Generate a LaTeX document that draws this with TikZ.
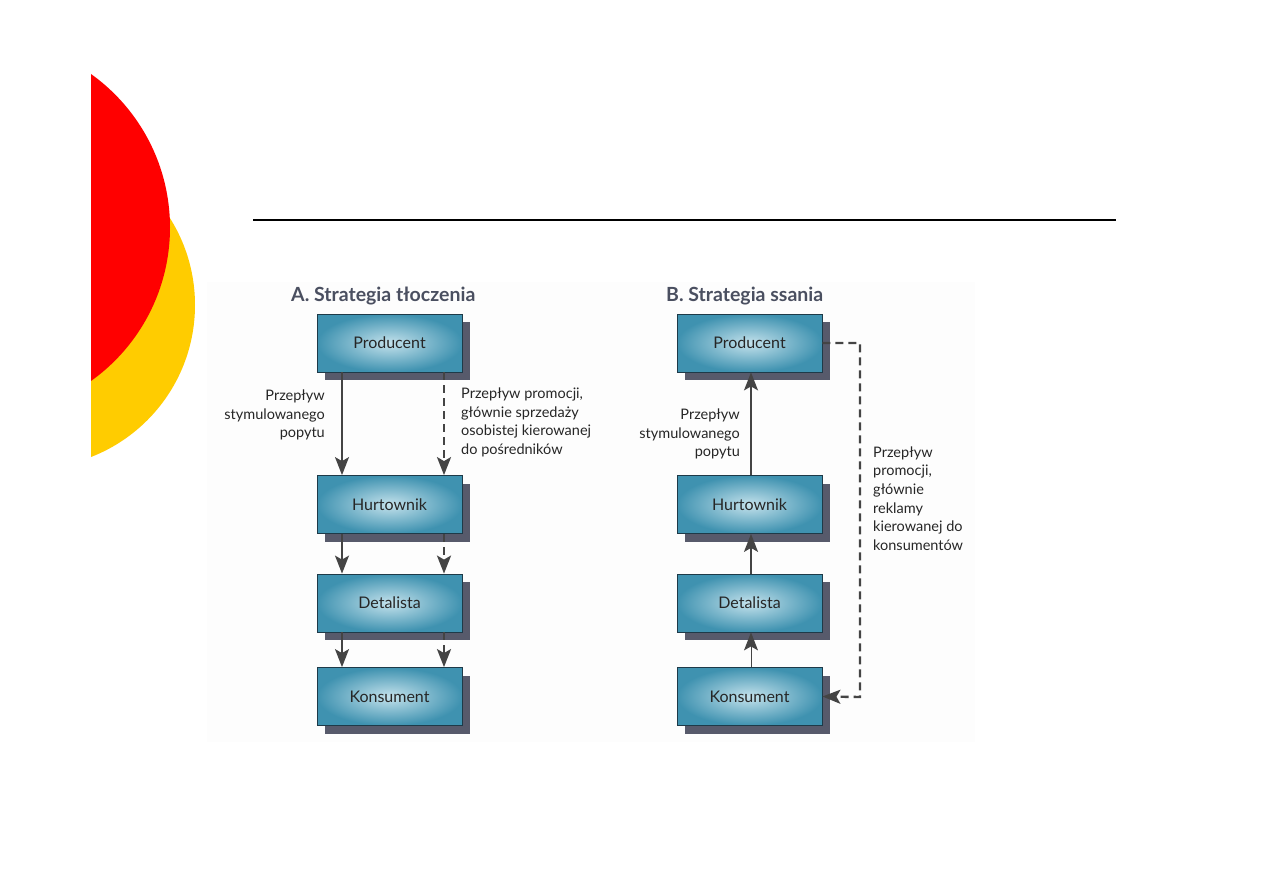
\documentclass[tikz,border=0pt]{standalone}
\usepackage{fontspec}
\setmainfont{Lato}
\usetikzlibrary{shadows,arrows.meta}
\definecolor{boxout}{HTML}{3F92B0}
\definecolor{boxin}{HTML}{C4E2EC}
\definecolor{boxline}{HTML}{1E3A48}
\definecolor{shadowc}{HTML}{575A6B}
\definecolor{arrowc}{HTML}{444444}
\definecolor{titlec}{HTML}{4A4F60}
\definecolor{bgc}{HTML}{FDFDFD}
\definecolor{redc}{HTML}{FF0000}
\definecolor{yellowc}{HTML}{FFCC00}
\tikzset{
  stagebox/.style={draw=boxline, line width=0.8pt, minimum width=145pt, minimum height=58pt,
    inner color=boxin, outer color=boxout,
    drop shadow={shadow xshift=8pt, shadow yshift=-8pt, fill=shadowc, opacity=1},
    font=\fontsize{16}{19}\selectfont, text=black!85},
  flow/.style={draw=arrowc, line width=1.6pt, -{Stealth[length=18pt,width=14pt,inset=4pt]}},
  dflow/.style={draw=arrowc, line width=2.4pt, dash pattern=on 8pt off 5pt, -{Stealth[length=18pt,width=14pt,inset=4pt]}},
  lbl/.style={font=\fontsize{14.5}{18.6}\selectfont, text=black!85, inner sep=0pt},
  ttl/.style={font=\bfseries\fontsize{19.5}{22}\selectfont, text=titlec, inner sep=0pt}
}
\begin{document}
\begin{tikzpicture}[x=1pt,y=-1pt]
\useasboundingbox (0,0) rectangle (1263,893);
\fill[white] (0,0) rectangle (1263,893);
% decorative half discs
\begin{scope}
\clip (91,0) rectangle (400,893);
\fill[yellowc] (32,305) circle (163);
\fill[redc] (-18.6,227.5) circle (188.6);
\end{scope}
\draw[line width=1.8pt] (253,220) -- (1116,220);
\fill[bgc] (207,282) rectangle (975,742);
% titles
\node[ttl, anchor=west] (ta) at (291,296) {A. Strategia tłoczenia};
\node[ttl, anchor=west] (tb) at (666,296) {B. Strategia ssania};
% column A
\node[stagebox] (pA) at (389.5,343) {Producent};
\node[stagebox] (hA) at (389.5,504.5) {Hurtownik};
\node[stagebox] (dA) at (389.5,603) {Detalista};
\node[stagebox] (kA) at (389.5,696.5) {Konsument};
\coordinate (sA) at (342,0);
\coordinate (qA) at (444,0);
\draw[flow] (pA.south -| sA) -- (hA.north -| sA);
\draw[flow] (hA.south -| sA) -- (dA.north -| sA);
\draw[flow] (dA.south -| sA) -- (kA.north -| sA);
\draw[dflow] (pA.south -| qA) -- (hA.north -| qA);
\draw[dflow] (hA.south -| qA) -- (dA.north -| qA);
\draw[dflow] (dA.south -| qA) -- (kA.north -| qA);
\node[lbl, anchor=east, align=right] (lA1) at (325,415) {Przepływ\\stymulowanego\\popytu};
\node[lbl, anchor=west, align=left] (lA2) at (461,422.5) {Przepływ promocji,\\głównie sprzedaży\\osobistej kierowanej\\do pośredników};
% column B
\node[stagebox] (pB) at (749.5,343) {Producent};
\node[stagebox] (hB) at (749.5,504.5) {Hurtownik};
\node[stagebox] (dB) at (749.5,603) {Detalista};
\node[stagebox] (kB) at (749.5,696.5) {Konsument};
\coordinate (sB) at (751,0);
\draw[flow] (hB.north -| sB) -- (pB.south -| sB);
\draw[flow] (dB.north -| sB) -- (hB.south -| sB);
\draw[flow, line width=1pt] (kB.north -| sB) -- (dB.south -| sB);
\coordinate (c1) at (860,343);
\coordinate (c2) at (860,697);
\draw[dflow] (pB.east) -- (c1) -- (c2) -- (kB.east);
\node[lbl, anchor=east, align=right] (lB1) at (740,434) {Przepływ\\stymulowanego\\popytu};
\node[lbl, anchor=west, align=left] (lB2) at (873,498.5) {Przepływ\\promocji,\\głównie\\reklamy\\kierowanej do\\konsumentów};
\end{tikzpicture}
\end{document}
